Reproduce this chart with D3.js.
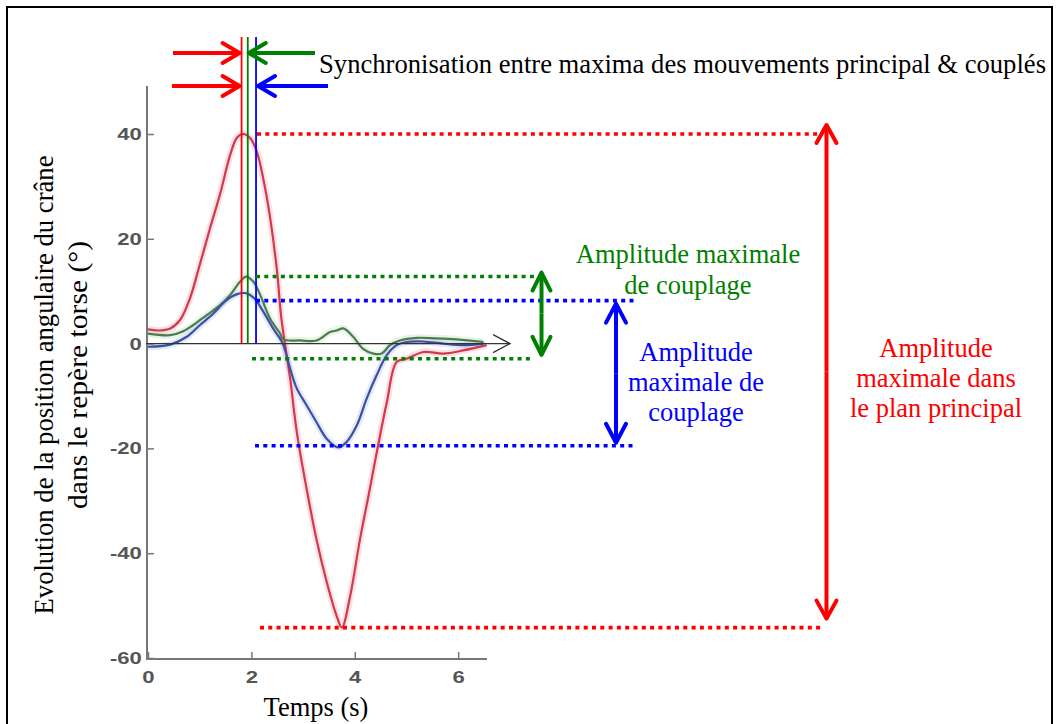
<!DOCTYPE html>
<html><head><meta charset="utf-8">
<script src="https://cdn.jsdelivr.net/npm/d3@7"></script>
<style>body{margin:0;background:#fff}svg{display:block}</style>
</head><body>
<svg id="c" width="1056" height="724"></svg>
<script>
// ---- data ----
const redT   = [0, 0.2, 0.43, 0.62, 0.81, 1.0, 1.2, 1.39, 1.59, 1.72, 1.84, 1.97, 2.1, 2.3, 2.49, 2.58, 2.75, 2.88, 3.07, 3.26, 3.46, 3.65, 3.75, 3.91, 4.1, 4.29, 4.45, 4.62, 4.81, 5.0, 5.33, 5.71, 6.1, 6.55];
const redV   = [2.7, 2.5, 2.9, 4.5, 8.6, 15, 22, 28.4, 36, 39.3, 40, 39.3, 36.8, 27.8, 14.4, 4.8, -6.7, -17, -27.8, -37.4, -45.6, -52, -54.2, -48.2, -37.4, -27.8, -19.5, -11.2, -3.5, -2.9, -1.6, -1.9, -1.3, -0.3];
const greenT = [0, 0.43, 0.67, 0.87, 1.13, 1.39, 1.59, 1.78, 1.9, 2.04, 2.17, 2.36, 2.55, 2.62, 2.94, 3.26, 3.52, 3.65, 3.78, 3.97, 4.16, 4.36, 4.52, 4.68, 4.87, 5.2, 5.58, 5.97, 6.49];
const greenV = [1.9, 1.6, 2.3, 3.5, 5.4, 7.3, 9.3, 11.8, 12.8, 11.8, 9.3, 4.8, 2.0, 0.8, 0.6, 0.6, 2.2, 2.5, 2.9, 1.3, -1.0, -1.9, -1.9, -0.3, 0.6, 1.1, 1.0, 0.8, 0.3];
const blueT  = [0, 0.43, 0.75, 1.0, 1.26, 1.52, 1.71, 1.9, 2.06, 2.23, 2.42, 2.55, 2.62, 2.75, 2.88, 3.07, 3.26, 3.46, 3.68, 3.84, 4.04, 4.23, 4.42, 4.62, 4.81, 5.0, 5.32, 5.71, 6.1, 6.49];
const blueV  = [-0.6, -0.2, 1.3, 3.5, 5.7, 8.3, 9.4, 9.6, 8.6, 6.1, 2.9, 1.0, -0.3, -4.8, -8.6, -11.8, -15, -18.2, -19.8, -18.8, -15.6, -10.5, -6.1, -2.2, -0.3, 0.3, 0.4, 0, -0.3, 0];
const xTicks = [0, 2, 4, 6];
const yTicks = [40, 20, 0, -20, -40, -60];
const syncTimes   = [1.81, 1.93, 2.09];   // red, green, blue maxima markers
const redLevels   = [40, -54.2];
const greenLevels = [12.8, -2.9];
const blueLevels  = [8.2, -19.5];
const syncLabel  = "Synchronisation entre maxima des mouvements principal & couplés";
const greenLabel = ["Amplitude maximale", "de couplage"];
const blueLabel  = ["Amplitude", "maximale de", "couplage"];
const redLabel   = ["Amplitude", "maximale dans", "le plan principal"];
const yTitle     = ["Evolution de la position angulaire du crâne", "dans le repère torse (°)"];
const xTitle     = "Temps (s)";

// ---- drawing ----
const svg = d3.select("#c");
const serif = "'Liberation Serif','Times New Roman',serif";
const FS = 26.5;
const x = d3.scaleLinear().domain([0, 6.5]).range([148, 484]);
const y = d3.scaleLinear().domain([-60, 40]).range([658, 134]);

// outer frame
svg.append("rect").attr("x", 7).attr("y", 7).attr("width", 1045).attr("height", 740)
  .attr("fill", "none").attr("stroke", "#000").attr("stroke-width", 2);

// axes
const axCol = "#777";
svg.append("line").attr("x1", 147).attr("x2", 147).attr("y1", 86).attr("y2", 659)
  .attr("stroke", axCol).attr("stroke-width", 2);
svg.append("line").attr("x1", 146).attr("x2", 487).attr("y1", 659).attr("y2", 659)
  .attr("stroke", axCol).attr("stroke-width", 2);

const fmt = d => String(d);
const yAx = svg.append("g").attr("transform", "translate(147,0)")
  .call(d3.axisLeft(y).tickValues(yTicks).tickFormat(fmt).tickSizeInner(-7).tickSizeOuter(0).tickPadding(4));
const xAx = svg.append("g").attr("transform", "translate(0,659)")
  .call(d3.axisBottom(x).tickValues(xTicks).tickFormat(fmt).tickSizeInner(-7).tickSizeOuter(0).tickPadding(12));
[yAx, xAx].forEach(g => {
  g.select(".domain").remove();
  g.selectAll(".tick line").attr("stroke", axCol).attr("stroke-width", 1.5);
  g.selectAll(".tick text").attr("fill", "#555").attr("font-family", "'Liberation Sans',Arial,sans-serif")
    .attr("font-size", 17).attr("font-weight", "bold").attr("transform", "scale(1.3,1)");
});

// curves
const series = [
  {t: redT, v: redV, c: "#cf3a4c", h: "#f6a8b6"},
  {t: greenT, v: greenV, c: "#4f7a4f", h: "#b6e0b6"},
  {t: blueT, v: blueV, c: "#3f4ea0", h: "#a9c4f2"}
];
const line = d3.line().x(d => x(d[0])).y(d => y(d[1])).curve(d3.curveCatmullRom.alpha(0.5));
series.forEach(s => {
  const pts = s.t.map((t, i) => [t, s.v[i]]);
  svg.append("path").attr("d", line(pts)).attr("fill", "none").attr("stroke", s.h)
    .attr("stroke-width", 7).attr("stroke-opacity", 0.35).attr("stroke-linejoin", "round");
});
series.forEach(s => {
  const pts = s.t.map((t, i) => [t, s.v[i]]);
  svg.append("path").attr("d", line(pts)).attr("fill", "none").attr("stroke", s.c)
    .attr("stroke-width", 2.2).attr("stroke-linejoin", "round");
});

// zero line with open arrow
svg.append("line").attr("x1", 146).attr("x2", 510).attr("y1", y(0)).attr("y2", y(0))
  .attr("stroke", "#333").attr("stroke-width", 1.3);
svg.append("path").attr("d", `M493,${y(0) - 9}L510,${y(0)}L493,${y(0) + 9}`)
  .attr("fill", "none").attr("stroke", "#333").attr("stroke-width", 1.3);

// sync vertical lines
const cols = ["#ff0000", "#008000", "#0000ff"];
syncTimes.forEach((t, i) => {
  svg.append("line").attr("x1", x(t)).attr("x2", x(t)).attr("y1", 37).attr("y2", y(0))
    .attr("stroke", cols[i]).attr("stroke-width", 1.8);
});

function arrow(x1, y1, x2, y2, col, L = 17, W = 10) {
  const a = Math.atan2(y2 - y1, x2 - x1);
  const g = svg.append("g").attr("stroke", col).attr("stroke-width", 4).attr("fill", "none")
    .attr("stroke-linecap", "round").attr("stroke-linejoin", "round");
  g.append("line").attr("x1", x1).attr("y1", y1).attr("x2", x2).attr("y2", y2).attr("stroke-linecap", "butt");
  const bx = x2 - L * Math.cos(a), by = y2 - L * Math.sin(a);
  const px = -Math.sin(a) * W, py = Math.cos(a) * W;
  g.append("path").attr("d", `M${bx + px},${by + py}L${x2},${y2}L${bx - px},${by - py}`);
}
function dblArrow(xx, y1, y2, col, L = 18, W = 10) {
  arrow(xx, (y1 + y2) / 2, xx, y1, col, L, W);
  arrow(xx, (y1 + y2) / 2, xx, y2, col, L, W);
}

// top sync arrows
arrow(173, 53, x(syncTimes[0]) - 2, 53, cols[0]);
arrow(315, 53, x(syncTimes[1]) + 1, 53, cols[1]);
arrow(172, 86, x(syncTimes[0]) - 2, 86, cols[0]);
arrow(328, 86, x(syncTimes[2]) + 2, 86, cols[2]);

// dotted level lines
function dotted(x1, x2, v, col) {
  svg.append("line").attr("x1", x1).attr("x2", x2).attr("y1", y(v)).attr("y2", y(v))
    .attr("stroke", col).attr("stroke-width", 3.6).attr("stroke-dasharray", "4,4.3");
}
dotted(257, 822, redLevels[0], cols[0]);
dotted(260, 822, redLevels[1], cols[0]);
dotted(256, 534, greenLevels[0], cols[1]);
dotted(252, 534, greenLevels[1], cols[1]);
dotted(256, 636, blueLevels[0], cols[2]);
dotted(255, 636, blueLevels[1], cols[2]);

// amplitude double arrows
dblArrow(826.5, y(redLevels[0]) - 9, y(redLevels[1]) - 9, cols[0]);
dblArrow(541.5, y(greenLevels[0]) - 4, y(greenLevels[1]) - 4, cols[1], 18, 9);
dblArrow(616, y(blueLevels[0]) + 3, y(blueLevels[1]) - 3, cols[2], 19, 10);

// texts
function lines(arr, cx, y0, dy, col) {
  arr.forEach((s, i) => svg.append("text").attr("x", cx).attr("y", y0 + i * dy)
    .attr("text-anchor", "middle").attr("font-family", serif).attr("font-size", FS)
    .attr("fill", col).text(s));
}
svg.append("text").attr("x", 319).attr("y", 73).attr("font-family", serif).attr("font-size", FS)
  .attr("fill", "#000").attr("textLength", 727).attr("lengthAdjust", "spacingAndGlyphs").text(syncLabel);
lines(greenLabel, 688, 263, 31, cols[1]);
lines(blueLabel, 696, 361, 30, cols[2]);
lines(redLabel, 936, 357, 30, cols[0]);
svg.append("text").attr("x", 316).attr("y", 716).attr("text-anchor", "middle")
  .attr("font-family", serif).attr("font-size", FS).attr("fill", "#000").text(xTitle);
const yPos = [[53, 385, 459], [87, 375, 268]];
yTitle.forEach((s, i) => {
  svg.append("text").attr("transform", `translate(${yPos[i][0]},${yPos[i][1]}) rotate(-90)`)
    .attr("text-anchor", "middle").attr("font-family", serif).attr("font-size", FS)
    .attr("textLength", yPos[i][2]).attr("lengthAdjust", "spacingAndGlyphs")
    .attr("fill", "#000").text(s);
});
</script>
</body></html>
